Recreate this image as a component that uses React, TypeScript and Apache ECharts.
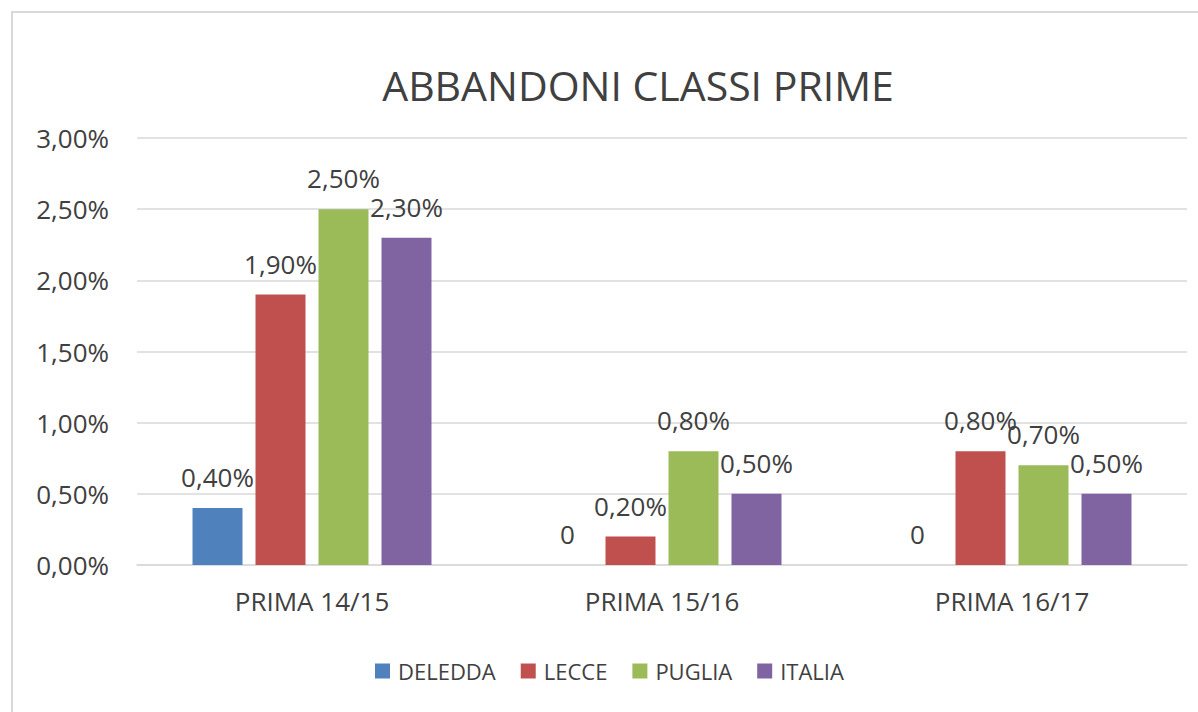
import React, { useEffect, useRef } from "react";
import * as echarts from "echarts";

const categories = ["PRIMA 14/15", "PRIMA 15/16", "PRIMA 16/17"];
const seriesNames = ["DELEDDA", "LECCE", "PUGLIA", "ITALIA"];
const deledda = [0.4, 0, 0];
const lecce = [1.9, 0.2, 0.8];
const puglia = [2.5, 0.8, 0.7];
const italia = [2.3, 0.5, 0.5];
const colors = ["#4F81BD", "#C0504D", "#9BBB59", "#8064A2"];
const titleText = "ABBANDONI CLASSI PRIME";

const fmtPct = (v: number) => v.toFixed(2).replace(".", ",") + "%";

export default function App() {
  const ref = useRef<HTMLDivElement>(null);
  useEffect(() => {
    document.body.style.margin = "0";
    const chart = echarts.init(ref.current!, null, { renderer: "svg" });
    const font = "'Open Sans', sans-serif";
    const allData = [deledda, lecce, puglia, italia];
    chart.setOption({
      animation: false,
      backgroundColor: "#ffffff",
      graphic: [
        {
          type: "rect",
          shape: { x: 12, y: 12, width: 1260, height: 760 },
          style: { fill: "none", stroke: "#D9D9D9", lineWidth: 2 },
          silent: true,
        },
      ],
      title: {
        text: titleText,
        left: 633,
        top: 59,
        textAlign: "center",
        textStyle: { fontFamily: font, fontSize: 41, fontWeight: "normal", color: "#404040" },
      },
      legend: {
        data: seriesNames,
        left: 370,
        top: 655,
        icon: "rect",
        itemWidth: 15,
        itemHeight: 15,
        itemGap: 25,
        textStyle: { fontFamily: font, fontSize: 22, color: "#404040", padding: [0, 0, 0, 3] },
      },
      grid: { left: 137, right: 11, top: 138, bottom: 147, containLabel: false },
      xAxis: {
        type: "category",
        data: categories,
        axisLine: { show: true, lineStyle: { color: "#D9D9D9", width: 1.5 } },
        axisTick: { show: false },
        axisLabel: { fontFamily: font, fontSize: 26, color: "#404040", margin: 23 },
      },
      yAxis: {
        type: "value",
        min: 0,
        max: 3,
        interval: 0.5,
        axisLine: { show: false },
        axisTick: { show: false },
        splitLine: { lineStyle: { color: "#D9D9D9", width: 1.5 } },
        axisLabel: {
          fontFamily: font,
          fontSize: 26,
          color: "#404040",
          margin: 28,
          formatter: (v: number) => fmtPct(v),
        },
      },
      series: seriesNames.map((name, i) => ({
        name,
        type: "bar",
        data: allData[i],
        barWidth: 50,
        barGap: "26%",
        itemStyle: { color: colors[i] },
        label: {
          show: true,
          position: "top",
          distance: 18,
          fontFamily: font,
          fontSize: 26,
          color: "#404040",
          formatter: (p: any) => (p.value === 0 ? "0" : fmtPct(p.value)),
        },
      })),
    });
    return () => chart.dispose();
  }, []);
  return <div ref={ref} style={{ width: 1198, height: 712 }} />;
}
